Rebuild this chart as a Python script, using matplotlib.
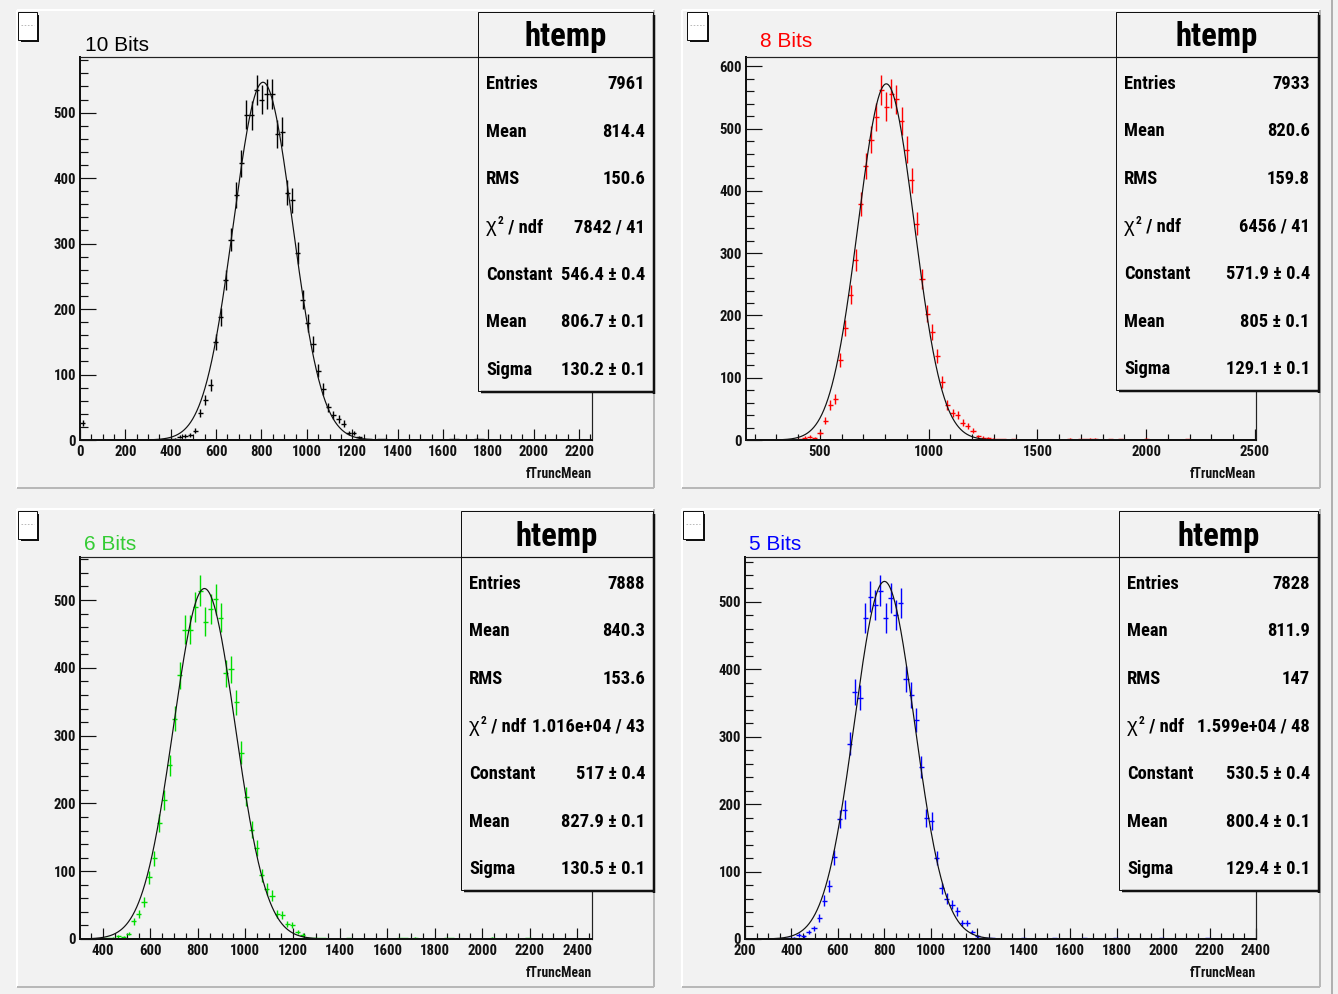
import os
import numpy as np
import matplotlib
matplotlib.use("Agg")
import matplotlib.pyplot as plt
from matplotlib import font_manager as fm
from matplotlib.font_manager import FontProperties
from matplotlib.patches import Rectangle
from matplotlib.ticker import MultipleLocator

W, H, DPI = 1338, 994, 100

# ---------------------------------------------------------------- data
titles = ["10 Bits", "8 Bits", "6 Bits", "5 Bits"]
title_colors = ["#000000", "#ff0000", "#33cc33", "#0000ff"]
point_colors = ["#000000", "#ff0000", "#00dd00", "#0000ff"]
n_bins = 100
x_ranges = [(0, 2257), (160, 2505), (303, 2463), (200, 2400)]
x_major = [200, 500, 200, 200]
x_minor = [50, 100, 50, 50]

# bin contents: a contiguous core starting at *_first plus isolated tail bins
bits10_first = 16
bits10_core = [1, 1, 2, 5, 6, 8, 14, 41, 61, 84, 149, 188, 244, 306, 374, 423, 497,
               496, 534, 520, 528, 528, 467, 471, 378, 366, 286, 214, 179, 146, 106,
               78, 50, 38, 32, 25, 11, 11, 4, 2, 1]
bits10_tail_bins = [0, 58, 59, 72, 73, 77, 78]
bits10_tail_counts = [26, 1, 1, 1, 1, 2, 1]

bits8_first = 10
bits8_core = [1, 4, 5, 3, 11, 31, 56, 66, 129, 180, 233, 289, 379, 440, 482, 519, 562,
              535, 556, 547, 512, 466, 417, 347, 258, 203, 173, 135, 93, 56, 43, 40,
              28, 22, 15, 6, 4, 3, 2, 1, 1]
bits8_tail_bins = [52, 63, 65, 66, 67, 68, 71, 73, 78, 86]
bits8_tail_counts = [1, 2, 1, 1, 2, 2, 1, 1, 2, 1]

bits6_first = 4
bits6_core = [1, 1, 2, 4, 3, 8, 26, 37, 55, 91, 119, 171, 205, 256, 325, 389, 456, 456,
              490, 514, 468, 487, 501, 474, 392, 398, 349, 275, 210, 161, 134, 94, 74,
              64, 37, 36, 22, 20, 10, 6, 2, 1, 1, 1]
bits6_tail_bins = [52, 62, 63, 65, 71, 72, 80, 87]
bits6_tail_counts = [1, 1, 1, 2, 1, 1, 2, 1]

bits5_first = 8
bits5_core = [1, 2, 6, 4, 10, 16, 31, 57, 78, 121, 178, 192, 290, 367, 358, 476, 508,
              496, 517, 476, 506, 481, 499, 386, 362, 325, 255, 179, 175, 120, 75, 60,
              51, 41, 24, 24, 10, 4, 2, 1, 1]
bits5_tail_bins = [54, 60, 66, 72, 81, 90]
bits5_tail_counts = [1, 1, 1, 1, 1, 1]

entries = [7961, 7933, 7888, 7828]
means = ["814.4", "820.6", "840.3", "811.9"]
rms = ["150.6", "159.8", "153.6", "147"]
chi2_ndf = ["7842 / 41", "6456 / 41", "1.016e+04 / 43", "1.599e+04 / 48"]
fit_const = [546.4, 571.9, 517.0, 530.5]
fit_const_err = [0.4, 0.4, 0.4, 0.4]
fit_mean = [806.7, 805.0, 827.9, 800.4]
fit_mean_err = [0.1, 0.1, 0.1, 0.1]
fit_sigma = [130.2, 129.1, 130.5, 129.4]
fit_sigma_err = [0.1, 0.1, 0.1, 0.1]

# ---------------------------------------------------------------- layout (pixels)
pads = [(17, 10, 654, 488), (682, 10, 1320, 488), (17, 509, 654, 987), (682, 509, 1320, 987)]
frames = [(80, 57, 592, 440), (746, 57, 1256, 440), (80, 557, 592, 939), (745, 557, 1256, 939)]
stat_boxes = [(478, 12, 653, 391), (1116, 12, 1318, 390), (461, 511, 653, 890), (1119, 511, 1318, 890)]
title_pos = [(85, 51), (760, 47), (84, 550), (749, 550)]
icons = [(18, 12, 37, 40), (687, 12, 707, 40), (18, 511, 37, 539), (683, 511, 703, 539)]

CANVAS = "#f2f2f2"
PAD = "#f2f2f2"
INK = "#111111"


# ---------------------------------------------------------------- fonts
def _find_condensed_bold():
    entries_ = fm.fontManager.ttflist
    prefs = ["liberationsansnarrow-bold.", "robotocondensed-bold.", "roboto_condensed-bold",
             "opensans_condensed-bold.", "opensanscondensed-bold.", "opensans-condensedbold.",
             "notosans-condensedbold.", "dejavusanscondensed-bold.", "lato-bold.",
             "liberationsans-bold.", "roboto-bold.", "dejavusans-bold."]
    for p in prefs:
        for f in entries_:
            if os.path.basename(f.fname).lower().startswith(p):
                return f.fname
    return None


def _find_regular():
    for p in ["liberationsans-regular.", "arimo-regular.", "roboto-regular."]:
        for f in fm.fontManager.ttflist:
            if os.path.basename(f.fname).lower().startswith(p):
                return f.fname
    return None


BOLD_FILE = _find_condensed_bold()
REG_FILE = _find_regular()


def bold_fp(size):
    if BOLD_FILE:
        return FontProperties(fname=BOLD_FILE, size=size)
    return FontProperties(family="DejaVu Sans", weight="bold", stretch="condensed", size=size)


def reg_fp(size):
    if REG_FILE:
        return FontProperties(fname=REG_FILE, size=size)
    return FontProperties(family="DejaVu Sans", size=size)


def build_counts(first, core, tail_bins, tail_counts):
    c = np.zeros(n_bins)
    c[first:first + len(core)] = core
    c[np.asarray(tail_bins, dtype=int)] = tail_counts
    return c


hists = [
    build_counts(bits10_first, bits10_core, bits10_tail_bins, bits10_tail_counts),
    build_counts(bits8_first, bits8_core, bits8_tail_bins, bits8_tail_counts),
    build_counts(bits6_first, bits6_core, bits6_tail_bins, bits6_tail_counts),
    build_counts(bits5_first, bits5_core, bits5_tail_bins, bits5_tail_counts),
]

fig = plt.figure(figsize=(W / DPI, H / DPI), dpi=DPI, facecolor=CANVAS)
renderer = fig.canvas.get_renderer()


def sized(sample, target_w, max_size):
    """Bold font size giving `sample` roughly `target_w` pixels of width."""
    t = fig.text(0, 0, sample, fontproperties=bold_fp(10))
    w = t.get_window_extent(renderer).width
    t.remove()
    return min(max_size, 10.0 * target_w / max(w, 1.0))


STAT_SIZE = sized("Entries", 52, 14.5)
HEAD_SIZE = sized("htemp", 82, 27)
TICK_SIZE = sized("1000", 30, 11)
XLAB_SIZE = sized("fTruncMean", 66, 11)

bg = fig.add_axes([0, 0, 1, 1], label="bg", zorder=0)
bg.set_xlim(0, W); bg.set_ylim(H, 0); bg.axis("off")
fg = fig.add_axes([0, 0, 1, 1], label="fg", zorder=5)
fg.set_xlim(0, W); fg.set_ylim(H, 0); fg.axis("off")
fg.patch.set_alpha(0)

PX = 72.0 / DPI  # one pixel in points


def bevel(ax, x0, y0, x1, y1, light="white", dark="#b8b8b8", lw=2):
    ax.plot([x0, x1], [y0, y0], color=light, lw=lw * PX, solid_capstyle="butt")
    ax.plot([x0, x0], [y0, y1], color=light, lw=lw * PX, solid_capstyle="butt")
    ax.plot([x0, x1], [y1, y1], color=dark, lw=lw * PX, solid_capstyle="butt")
    ax.plot([x1, x1], [y0, y1], color=dark, lw=lw * PX, solid_capstyle="butt")


def shadow_box(ax, x0, y0, x1, y1, face, shadow=2.5):
    ax.add_patch(Rectangle((x0, y0), x1 - x0, y1 - y0, facecolor=face,
                           edgecolor=INK, lw=1.0 * PX, zorder=3))
    ax.plot([x0 + 3, x1 + shadow / 2], [y1 + shadow / 2, y1 + shadow / 2],
            color=INK, lw=shadow * PX, solid_capstyle="butt", zorder=3)
    ax.plot([x1 + shadow / 2, x1 + shadow / 2], [y0 + 3, y1 + shadow],
            color=INK, lw=shadow * PX, solid_capstyle="butt", zorder=3)


def chi2_label(x, yb):
    """Draws the chi-square label as a run of pieces, left to right."""
    pieces = [
        ("\u03c7", reg_fp(STAT_SIZE * 1.1), 0),
        ("2", bold_fp(STAT_SIZE * 0.62), -8),
        (" / ndf", bold_fp(STAT_SIZE), 0),
    ]
    for s, fp, dy in pieces:
        t = fg.text(x, yb + dy, s, ha="left", va="baseline", fontproperties=fp,
                    color="#000000", zorder=4)
        x += t.get_window_extent(renderer).width + 0.5


for k in range(4):
    px0, py0, px1, py1 = pads[k]
    bg.add_patch(Rectangle((px0, py0), px1 - px0, py1 - py0, facecolor=PAD, edgecolor="none"))
    bevel(bg, px0, py0, px1, py1)

    fx0, fy0, fx1, fy1 = frames[k]
    ax = fig.add_axes([fx0 / W, 1 - fy1 / H, (fx1 - fx0) / W, (fy1 - fy0) / H], zorder=2)
    ax.patch.set_alpha(0)

    lo, hi = x_ranges[k]
    width = (hi - lo) / n_bins
    centers = lo + (np.arange(n_bins) + 0.5) * width
    counts = hists[k]
    errs = np.sqrt(counts)
    nz = counts > 0
    ax.errorbar(centers[nz], counts[nz], xerr=width / 2, yerr=errs[nz], fmt="none",
                ecolor=point_colors[k], elinewidth=1.4 * PX, capsize=0, zorder=2)

    xs = np.linspace(lo, hi, 1500)
    gauss = fit_const[k] * np.exp(-0.5 * ((xs - fit_mean[k]) / fit_sigma[k]) ** 2)
    ax.plot(xs, gauss, color=INK, lw=1.2 * PX, zorder=3)

    ymax = 1.05 * np.max(counts + errs)
    ax.set_xlim(lo, hi)
    ax.set_ylim(0, ymax)

    ax.xaxis.set_major_locator(MultipleLocator(x_major[k]))
    ax.xaxis.set_minor_locator(MultipleLocator(x_minor[k]))
    ax.yaxis.set_major_locator(MultipleLocator(100))
    ax.yaxis.set_minor_locator(MultipleLocator(20))
    ax.tick_params(axis="x", which="major", direction="in", length=11.5 * PX,
                   width=1.2 * PX, pad=5 * PX, top=False, color=INK)
    ax.tick_params(axis="x", which="minor", direction="in", length=5.7 * PX,
                   width=1.2 * PX, top=False, color=INK)
    ax.tick_params(axis="y", which="major", direction="in", length=15.5 * PX,
                   width=1.2 * PX, pad=4 * PX, right=False, color=INK)
    ax.tick_params(axis="y", which="minor", direction="in", length=8 * PX,
                   width=1.2 * PX, right=False, color=INK)
    for lab in ax.get_xticklabels() + ax.get_yticklabels():
        lab.set_fontproperties(bold_fp(TICK_SIZE))
        lab.set_color(INK)
    for side in ("top", "right"):
        ax.spines[side].set_linewidth(1.2 * PX)
        ax.spines[side].set_color("#222222")
    for side in ("bottom", "left"):
        ax.spines[side].set_linewidth(2.0 * PX)
        ax.spines[side].set_color(INK)

    # axis title
    fg.text(fx1, fy1 + 38, "fTruncMean", ha="right", va="baseline",
            fontproperties=bold_fp(XLAB_SIZE), color=INK)

    # pad title
    tx, ty = title_pos[k]
    fg.text(tx, ty, titles[k], ha="left", va="baseline", fontproperties=reg_fp(15),
            color=title_colors[k])

    # small legend icon
    ix0, iy0, ix1, iy1 = icons[k]
    shadow_box(fg, ix0, iy0, ix1, iy1, "white", shadow=2)
    fg.plot([ix0 + 3, ix1 - 3], [(iy0 + iy1) / 2 - 1] * 2, color="#aaaaaa",
            lw=0.8 * PX, ls=(0, (2, 2)), zorder=4)

    # statistics box
    sx0, sy0, sx1, sy1 = stat_boxes[k]
    shadow_box(fg, sx0, sy0, sx1, sy1, PAD, shadow=2.5)
    fg.plot([sx0, sx1], [frames[k][1], frames[k][1]], color=INK, lw=1.2 * PX, zorder=4)
    fg.text((sx0 + sx1) / 2, frames[k][1] - 11, "htemp", ha="center", va="baseline",
            fontproperties=bold_fp(HEAD_SIZE), color="#000000", zorder=4)

    rows = [
        ("Entries", f"{entries[k]}"),
        ("Mean", means[k]),
        ("RMS", rms[k]),
        (None, chi2_ndf[k]),
        ("Constant", f"{fit_const[k]:g} \u00b1 {fit_const_err[k]:g}"),
        ("Mean", f"{fit_mean[k]:g} \u00b1 {fit_mean_err[k]:g}"),
        ("Sigma", f"{fit_sigma[k]:g} \u00b1 {fit_sigma_err[k]:g}"),
    ]
    top = frames[k][1]
    step = (sy1 - top) / len(rows)
    for r, (name, val) in enumerate(rows):
        yb = top + step * (r + 0.5) + 8
        if name is None:
            chi2_label(sx0 + 8, yb)
        else:
            fg.text(sx0 + 8, yb, name, ha="left", va="baseline",
                    fontproperties=bold_fp(STAT_SIZE), color="#000000", zorder=4)
        fg.text(sx1 - 8, yb, val, ha="right", va="baseline",
                fontproperties=bold_fp(STAT_SIZE), color="#000000", zorder=4)

bg.plot([1332, 1332], [0, H], color="#b0b0b0", lw=2 * PX)

fig.savefig("out.png", dpi=DPI, facecolor=CANVAS)
